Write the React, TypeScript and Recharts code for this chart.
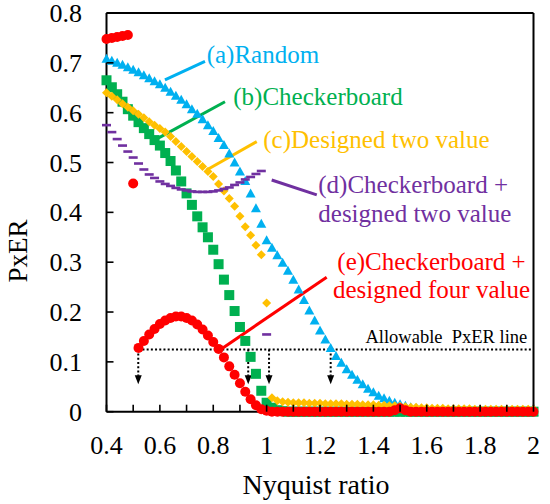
import React from "react";
import {
  ReferenceDot,
  ReferenceLine,
  Scatter,
  ScatterChart,
  XAxis,
  YAxis,
} from "recharts";

// Nyquist ratio sample positions shared by all five series
const NYQ = [
  0.4, 0.42, 0.44, 0.46, 0.48, 0.5, 0.52, 0.54, 0.56, 0.58, 0.6, 0.62, 0.64, 0.66, 0.68,
  0.7, 0.72, 0.74, 0.76, 0.78, 0.8, 0.82, 0.84, 0.86, 0.88, 0.9, 0.92, 0.94, 0.96, 0.98,
  1.0, 1.02, 1.04, 1.06, 1.08, 1.1, 1.12, 1.14, 1.16, 1.18, 1.2, 1.22, 1.24, 1.26, 1.28,
  1.3, 1.32, 1.34, 1.36, 1.38, 1.4, 1.42, 1.44, 1.46, 1.48, 1.5, 1.52, 1.54, 1.56, 1.58,
  1.6, 1.62, 1.64, 1.66, 1.68, 1.7, 1.72, 1.74, 1.76, 1.78, 1.8, 1.82, 1.84, 1.86, 1.88,
  1.9, 1.92, 1.94, 1.96, 1.98, 2.0,
];

// (a) Random
const randomPxer = [
  0.708, 0.704, 0.7, 0.696, 0.691, 0.686, 0.681, 0.675, 0.669, 0.663, 0.657, 0.65, 0.642,
  0.634, 0.626, 0.617, 0.607, 0.598, 0.587, 0.575, 0.563, 0.549, 0.535, 0.518, 0.5,
  0.482, 0.463, 0.438, 0.408, 0.377, 0.344, 0.329, 0.314, 0.299, 0.283, 0.265, 0.245,
  0.224, 0.203, 0.183, 0.163, 0.145, 0.128, 0.112, 0.098, 0.085, 0.074, 0.064, 0.055,
  0.046, 0.039, 0.032, 0.027, 0.022, 0.018, 0.015, 0.012, 0.009, 0.007, 0.005, 0.003,
  0.002, 0.001, 0, 0, 0, 0, 0, 0, 0, 0, 0, 0, 0, 0, 0, 0, 0, 0, 0, 0,
];

// (b) Checkerboard
const checkerPxer = [
  0.665, 0.651, 0.637, 0.622, 0.607, 0.594, 0.581, 0.569, 0.557, 0.545, 0.534, 0.519,
  0.503, 0.484, 0.462, 0.438, 0.415, 0.392, 0.37, 0.35, 0.325, 0.296, 0.265, 0.234,
  0.202, 0.17, 0.142, 0.11, 0.076, 0.042, 0.018, 0.008, 0.003, 0.001, 0, 0, 0, 0, 0, 0,
  0, 0, 0, 0, 0, 0, 0, 0, 0, 0, 0, 0, 0, 0, 0, 0, 0, 0, 0, 0, 0, 0, 0, 0, 0, 0, 0, 0, 0,
  0, 0, 0, 0, 0, 0, 0, 0, 0, 0, 0, 0,
];

// (c) Designed two value
const twoValuePxer = [
  0.64, 0.633, 0.626, 0.618, 0.611, 0.604, 0.597, 0.59, 0.582, 0.575, 0.568, 0.561,
  0.552, 0.542, 0.532, 0.522, 0.512, 0.502, 0.492, 0.482, 0.472, 0.457, 0.443, 0.428,
  0.412, 0.392, 0.371, 0.354, 0.334, 0.315, 0.218, 0.028, 0.022, 0.02, 0.019, 0.018,
  0.018, 0.018, 0.017, 0.017, 0.017, 0.016, 0.016, 0.016, 0.016, 0.015, 0.015, 0.015,
  0.014, 0.014, 0.014, 0.013, 0.013, 0.012, 0.012, 0.011, 0.01, 0.009, 0.009, 0.008,
  0.008, 0.007, 0.007, 0.007, 0.006, 0.006, 0.006, 0.006, 0.006, 0.005, 0.005, 0.005,
  0.005, 0.005, 0.005, 0.005, 0.005, 0.005, 0.005, 0.005, 0.005,
];

// (d) Checkerboard + designed two value
const checkerTwoPxer = [
  0.575, 0.561, 0.547, 0.534, 0.522, 0.51, 0.498, 0.486, 0.476, 0.469, 0.462, 0.457,
  0.453, 0.449, 0.446, 0.444, 0.442, 0.441, 0.441, 0.441, 0.442, 0.444, 0.447, 0.45,
  0.455, 0.46, 0.466, 0.471, 0.477, 0.483, 0.155, 0, 0, 0, 0, 0, 0, 0, 0, 0, 0, 0, 0, 0,
  0, 0, 0, 0, 0, 0, 0, 0, 0, 0, 0, 0, 0, 0, 0, 0, 0, 0, 0, 0, 0, 0, 0, 0, 0, 0, 0, 0, 0,
  0, 0, 0, 0, 0, 0, 0, 0,
];

// (e) Checkerboard + designed four value
const checkerFourPxer = [
  0.748, 0.75, 0.752, 0.754, 0.756, 0.458, 0.128, 0.142, 0.155, 0.166, 0.176, 0.183,
  0.188, 0.191, 0.191, 0.188, 0.183, 0.175, 0.165, 0.153, 0.14, 0.126, 0.109, 0.091,
  0.074, 0.057, 0.04, 0.025, 0.013, 0.005, 0.002, 0, 0, 0, 0, 0, 0, 0, 0, 0, 0, 0, 0, 0,
  0, 0, 0, 0, 0, 0, 0, 0, 0, 0, 0.003, 0.007, 0.003, 0, 0, 0, 0, 0, 0, 0, 0, 0, 0, 0, 0,
  0, 0, 0, 0, 0, 0, 0, 0, 0, 0, 0, 0,
];

const X_TICKS = [0.4, 0.5, 0.6, 0.7, 0.8, 0.9, 1.0, 1.1, 1.2, 1.3, 1.4, 1.5, 1.6, 1.7, 1.8, 1.9, 2.0];
const X_LABELS = ["0.4", "", "0.6", "", "0.8", "", "1", "", "1.2", "", "1.4", "", "1.6", "", "1.8", "", "2"];
const Y_TICKS = [0, 0.1, 0.2, 0.3, 0.4, 0.5, 0.6, 0.7, 0.8];
const Y_LABELS = ["0", "0.1", "0.2", "0.3", "0.4", "0.5", "0.6", "0.7", "0.8"];

// allowable PxER level and the ratios where each curve drops below it
const ALLOWABLE = 0.125;
const ARROW_X = [0.519, 0.931, 1.009, 1.24];

const BLUE = "#00B0F0";
const GREEN = "#00B050";
const YELLOW = "#FFC000";
const PURPLE = "#7030A0";
const RED = "#FF0000";
const FONT = "'Liberation Serif', 'Times New Roman', serif";

const toPoints = (ys: number[]) => NYQ.map((x, i) => ({ x, y: ys[i] }));

const Triangle = ({ cx, cy }: any) => (
  <polygon points={`${cx},${cy - 5} ${cx - 5},${cy + 4} ${cx + 5},${cy + 4}`} fill={BLUE} />
);
const Square = ({ cx, cy }: any) => (
  <rect x={cx - 5} y={cy - 5} width={10} height={10} fill={GREEN} />
);
const Diamond = ({ cx, cy }: any) => (
  <polygon points={`${cx},${cy - 4.5} ${cx + 4.5},${cy} ${cx},${cy + 4.5} ${cx - 4.5},${cy}`} fill={YELLOW} />
);
const Dash = ({ cx, cy }: any) => (
  <rect x={cx - 4.5} y={cy - 1.3} width={9} height={2.6} fill={PURPLE} />
);
const Dot = ({ cx, cy }: any) => <circle cx={cx} cy={cy} r={5} fill={RED} />;
const ArrowHead = ({ cx, cy }: any) => (
  <polygon points={`${cx},${cy + 4} ${cx - 3.5},${cy - 5} ${cx + 3.5},${cy - 5}`} fill="#000" />
);

const XTick = ({ x, y, index }: any) => (
  <g>
    <line x1={x} y1={y} x2={x} y2={y - 7} stroke="#000" strokeWidth={1.6} />
    <text x={x} y={y + 42} textAnchor="middle" fontSize={26} fontFamily={FONT} fill="#000">
      {X_LABELS[index] ?? ""}
    </text>
  </g>
);

const YTick = ({ x, y, index }: any) => (
  <g>
    <line x1={x} y1={y} x2={x + 7} y2={y} stroke="#000" strokeWidth={1.6} />
    <text x={x - 24.5} y={y + 9} textAnchor="end" fontSize={26} fontFamily={FONT} fill="#000">
      {Y_LABELS[index] ?? ""}
    </text>
  </g>
);

const dotted = { stroke: "#000", strokeWidth: 2, strokeDasharray: "2 2.2" };

export default function App() {
  return (
    <div style={{ position: "absolute", left: 0, top: 0, background: "#fff" }}>
      <ScatterChart
        width={550}
        height={504}
        margin={{ top: 13, right: 16.5, left: 0, bottom: 0 }}
      >
        <XAxis
          type="number"
          dataKey="x"
          domain={[0.4, 2]}
          ticks={X_TICKS}
          interval={0}
          tickSize={0}
          tickMargin={0}
          tick={<XTick />}
          height={92.3}
          axisLine={{ stroke: "#000", strokeWidth: 2 }}
        />
        <YAxis
          type="number"
          dataKey="y"
          domain={[0, 0.8]}
          ticks={Y_TICKS}
          interval={0}
          tickSize={0}
          tickMargin={0}
          tick={<YTick />}
          width={106.5}
          axisLine={{ stroke: "#000", strokeWidth: 2 }}
        />
        <ReferenceLine y={0.8} stroke="#000" strokeWidth={2} />
        <ReferenceLine x={2} stroke="#000" strokeWidth={2} />

        <ReferenceLine
          segment={[{ x: 0.519, y: ALLOWABLE }, { x: 2, y: ALLOWABLE }]}
          {...dotted}
        />
        {ARROW_X.map((ax) => (
          <ReferenceLine
            key={`s${ax}`}
            segment={[{ x: ax, y: ALLOWABLE }, { x: ax, y: 0.072 }]}
            {...dotted}
          />
        ))}
        {ARROW_X.map((ax) => (
          <ReferenceDot key={`h${ax}`} x={ax} y={0.063} shape={<ArrowHead />} />
        ))}

        <Scatter data={toPoints(randomPxer)} shape={<Triangle />} isAnimationActive={false} />
        <Scatter data={toPoints(checkerPxer)} shape={<Square />} isAnimationActive={false} />
        <Scatter data={toPoints(twoValuePxer)} shape={<Diamond />} isAnimationActive={false} />
        <Scatter data={toPoints(checkerTwoPxer)} shape={<Dash />} isAnimationActive={false} />
        <Scatter data={toPoints(checkerFourPxer)} shape={<Dot />} isAnimationActive={false} />

        {/* leader lines from each curve to its label */}
        <ReferenceLine segment={[{ x: 0.619, y: 0.666 }, { x: 0.769, y: 0.703 }]} stroke={BLUE} strokeWidth={3} ifOverflow="visible" />
        <ReferenceLine segment={[{ x: 0.594, y: 0.549 }, { x: 0.844, y: 0.622 }]} stroke={GREEN} strokeWidth={3} ifOverflow="visible" />
        <ReferenceLine segment={[{ x: 0.775, y: 0.485 }, { x: 0.963, y: 0.542 }]} stroke={YELLOW} strokeWidth={3} ifOverflow="visible" />
        <ReferenceLine segment={[{ x: 1.019, y: 0.465 }, { x: 1.188, y: 0.435 }]} stroke={PURPLE} strokeWidth={3} ifOverflow="visible" />
        <ReferenceLine segment={[{ x: 0.825, y: 0.124 }, { x: 1.225, y: 0.27 }]} stroke={RED} strokeWidth={3} ifOverflow="visible" />

        <text x={206.7} y={63.3} fontSize={25} fontFamily={FONT} fill={BLUE}>(a)Random</text>
        <text x={233.3} y={105} fontSize={25} fontFamily={FONT} fill={GREEN}>(b)Checkerboard</text>
        <text x={263.3} y={148.3} fontSize={25} fontFamily={FONT} fill={YELLOW}>(c)Designed two value</text>
        <text x={318.3} y={193.3} fontSize={25} fontFamily={FONT} fill={PURPLE}>(d)Checkerboard +</text>
        <text x={318.3} y={221.7} fontSize={25} fontFamily={FONT} fill={PURPLE}>designed two value</text>
        <text x={431.5} y={270} fontSize={25} fontFamily={FONT} fill={RED} textAnchor="middle">(e)Checkerboard +</text>
        <text x={431.5} y={298.3} fontSize={25} fontFamily={FONT} fill={RED} textAnchor="middle">designed four value</text>
        <text x={527.3} y={342.7} fontSize={18.5} fontFamily={FONT} fill="#000" textAnchor="end" xmlSpace="preserve">Allowable  PxER line</text>

        <text x={316} y={493.5} fontSize={28} fontFamily={FONT} fill="#000" textAnchor="middle">Nyquist ratio</text>
        <text transform="translate(26.5,251) rotate(-90)" fontSize={27} fontFamily={FONT} fill="#000" textAnchor="middle">PxER</text>
      </ScatterChart>
    </div>
  );
}
